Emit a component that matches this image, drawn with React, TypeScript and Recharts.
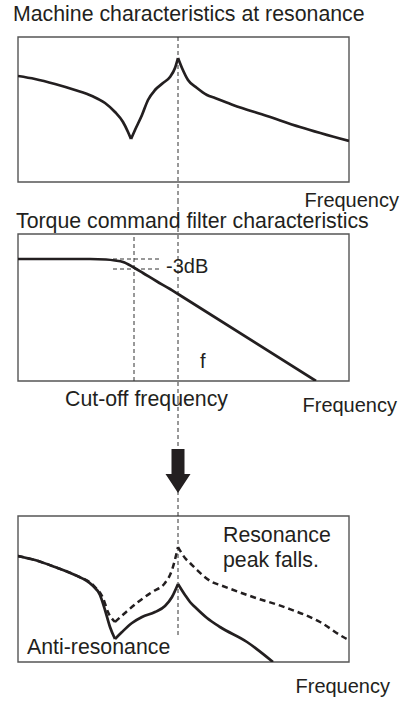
import { LineChart, Line, XAxis, YAxis, ReferenceLine, ReferenceArea, ReferenceDot } from 'recharts';

const INK = '#231f20';
const BOX = '#555';
const FONT = '"Liberation Sans", Arial, Helvetica, sans-serif';

// Machine characteristics at resonance (x: frequency position, y: gain, arbitrary units)
const machineFreq = [0, 17, 37, 57, 74, 87, 97, 105, 110, 113, 117, 124, 130, 137, 145, 152, 157, 160, 164, 170, 179, 189, 197, 215, 249, 282, 331];
const machineGain = [106, 103, 98, 92, 86, 79, 70, 60, 50, 43, 52, 67, 82, 92, 99, 105, 114, 124, 114, 102, 94, 87, 84, 77, 66, 55, 41];
const machineCusps = [9, 17]; // anti-resonance dip, resonance peak

// Torque command filter (low pass)
const filterFreq = [0, 72, 88, 97, 105, 115, 125, 139, 152, 160, 298];
const filterGain = [122, 122, 121.5, 120.5, 119, 114, 108, 99.5, 92, 87, 0];
const cutoffFreq = 116;
const passGain = 122;
const cutoffGain = 112;

// After filtering: solid = with filter, dashed = original
const filteredFreq = [0, 17, 37, 57, 74, 82, 87, 92, 97, 104, 114, 124, 137, 147, 154, 160, 167, 172, 177, 189, 202, 229, 255];
const filteredGain = [106, 102, 95, 87, 77, 67, 52, 35, 23, 30, 39, 45, 50, 56, 65, 78, 67, 60, 55, 44, 35, 20, 0];
const filteredCusps = [8, 15];
const originalFreq = [0, 17, 37, 57, 77, 85, 90, 97, 107, 120, 134, 147, 154, 160, 167, 172, 179, 194, 202, 235, 269, 302, 327, 331];
const originalGain = [106, 102, 95, 87, 75, 64, 50, 40, 49, 60, 70, 79, 92, 115, 104, 99, 92, 80, 77, 65, 54, 40, 24, 22];
const originalCusps = [7, 13];

const resonanceFreq = 160;

const zip = (xs: number[], ys: number[]) => xs.map((f, i) => ({ f, g: ys[i] }));

// split a curve at its cusps so each piece can be drawn smooth while the cusps stay sharp
const pieces = (xs: number[], ys: number[], cusps: number[]) => {
  const rows = zip(xs, ys);
  const cuts = [0, ...cusps, rows.length - 1];
  const out: { f: number; g: number }[][] = [];
  for (let i = 0; i < cuts.length - 1; i++) out.push(rows.slice(cuts[i], cuts[i + 1] + 1));
  return out;
};

const machinePieces = pieces(machineFreq, machineGain, machineCusps);
const filterData = zip(filterFreq, filterGain);
const filteredPieces = pieces(filteredFreq, filteredGain, filteredCusps);
const originalPieces = pieces(originalFreq, originalGain, originalCusps);

const dashRef = { stroke: '#333', strokeWidth: 1, strokeDasharray: '4 3' };

function Txt({ x, right, base, size = 21.3, children }: any) {
  const style: any = {
    position: 'absolute',
    top: base - size * 0.8465,
    fontSize: size,
    lineHeight: `${size}px`,
    fontFamily: FONT,
    color: INK,
    whiteSpace: 'nowrap',
  };
  if (right !== undefined) style.right = right;
  else style.left = x;
  return <div style={style}>{children}</div>;
}

const Arrow = (props: any) => {
  const { cx, cy } = props;
  const d = `M${cx - 6.5},${cy - 22} L${cx + 6.5},${cy - 22} L${cx + 6.5},${cy + 3} L${cx + 12.5},${cy + 3} L${cx},${cy + 22} L${cx - 12.5},${cy + 3} L${cx - 6.5},${cy + 3} Z`;
  return <path d={d} fill={INK} />;
};

export default function App() {
  return (
    <div style={{ position: 'absolute', left: 0, top: 0, width: 407, height: 702, background: '#fff' }}>
      {/* Panel 1 */}
      <div style={{ position: 'absolute', left: 0, top: 0 }}>
        <LineChart width={407} height={200} margin={{ top: 37, right: 58, bottom: 18, left: 18 }}>
          <XAxis type="number" dataKey="f" domain={[0, 331]} hide allowDataOverflow />
          <YAxis type="number" domain={[0, 145]} hide allowDataOverflow />
          <ReferenceArea x1={0} x2={331} y1={0} y2={145} fill="none" stroke={BOX} strokeWidth={1.4} />
          <ReferenceLine segment={[{ x: resonanceFreq, y: 145 }, { x: resonanceFreq, y: -18 }]} ifOverflow="visible" {...dashRef} />
          {machinePieces.map((p, i) => (
            <Line key={i} data={p} dataKey="g" type="monotone" dot={false} stroke={INK} strokeWidth={2.7} strokeLinejoin="miter" isAnimationActive={false} />
          ))}
        </LineChart>
      </div>

      {/* Panel 2 */}
      <div style={{ position: 'absolute', left: 0, top: 200 }}>
        <LineChart width={407} height={200} margin={{ top: 34, right: 58, bottom: 19, left: 18 }}>
          <XAxis type="number" dataKey="f" domain={[0, 331]} hide allowDataOverflow />
          <YAxis type="number" domain={[0, 147]} hide allowDataOverflow />
          <ReferenceArea x1={0} x2={331} y1={0} y2={147} fill="none" stroke={BOX} strokeWidth={1.4} />
          <ReferenceLine segment={[{ x: resonanceFreq, y: 181 }, { x: resonanceFreq, y: -19 }]} ifOverflow="visible" {...dashRef} />
          <ReferenceLine x={cutoffFreq} {...dashRef} />
          <ReferenceLine segment={[{ x: 95, y: passGain }, { x: 144, y: passGain }]} {...dashRef} />
          <ReferenceLine segment={[{ x: 95, y: cutoffGain }, { x: 144, y: cutoffGain }]} {...dashRef} />
          <Line data={filterData} dataKey="g" type="monotone" dot={false} stroke={INK} strokeWidth={2.7} isAnimationActive={false} />
        </LineChart>
      </div>

      {/* Panel 3 */}
      <div style={{ position: 'absolute', left: 0, top: 400 }}>
        <LineChart width={407} height={302} margin={{ top: 116, right: 58, bottom: 40, left: 18 }}>
          <XAxis type="number" dataKey="f" domain={[0, 331]} hide allowDataOverflow />
          <YAxis type="number" domain={[0, 146]} hide allowDataOverflow />
          <ReferenceArea x1={0} x2={331} y1={0} y2={146} fill="none" stroke={BOX} strokeWidth={1.4} />
          <ReferenceLine segment={[{ x: resonanceFreq, y: 262 }, { x: resonanceFreq, y: 27 }]} ifOverflow="visible" {...dashRef} />
          <ReferenceDot x={resonanceFreq} y={191} r={1} ifOverflow="visible" shape={Arrow} />
          {originalPieces.map((p, i) => (
            <Line key={`o${i}`} data={p} dataKey="g" type="monotone" dot={false} stroke={INK} strokeWidth={2.5} strokeDasharray="6 4" isAnimationActive={false} />
          ))}
          {filteredPieces.map((p, i) => (
            <Line key={`s${i}`} data={p} dataKey="g" type="monotone" dot={false} stroke={INK} strokeWidth={2.7} isAnimationActive={false} />
          ))}
        </LineChart>
      </div>

      <Txt x={13} base={22}>Machine characteristics at resonance</Txt>
      <Txt right={8} base={207} size={20}>Frequency</Txt>
      <Txt x={16} base={229}>Torque command filter characteristics</Txt>
      <Txt x={166} base={273} size={20}>-3dB</Txt>
      <Txt x={200} base={368} size={20}>f</Txt>
      <Txt x={65} base={407}>Cut-off frequency</Txt>
      <Txt right={10} base={412} size={20}>Frequency</Txt>
      <Txt x={223} base={543}>Resonance</Txt>
      <Txt x={223} base={568}>peak falls.</Txt>
      <Txt x={27} base={655}>Anti-resonance</Txt>
      <Txt right={17} base={693} size={20}>Frequency</Txt>
    </div>
  );
}
